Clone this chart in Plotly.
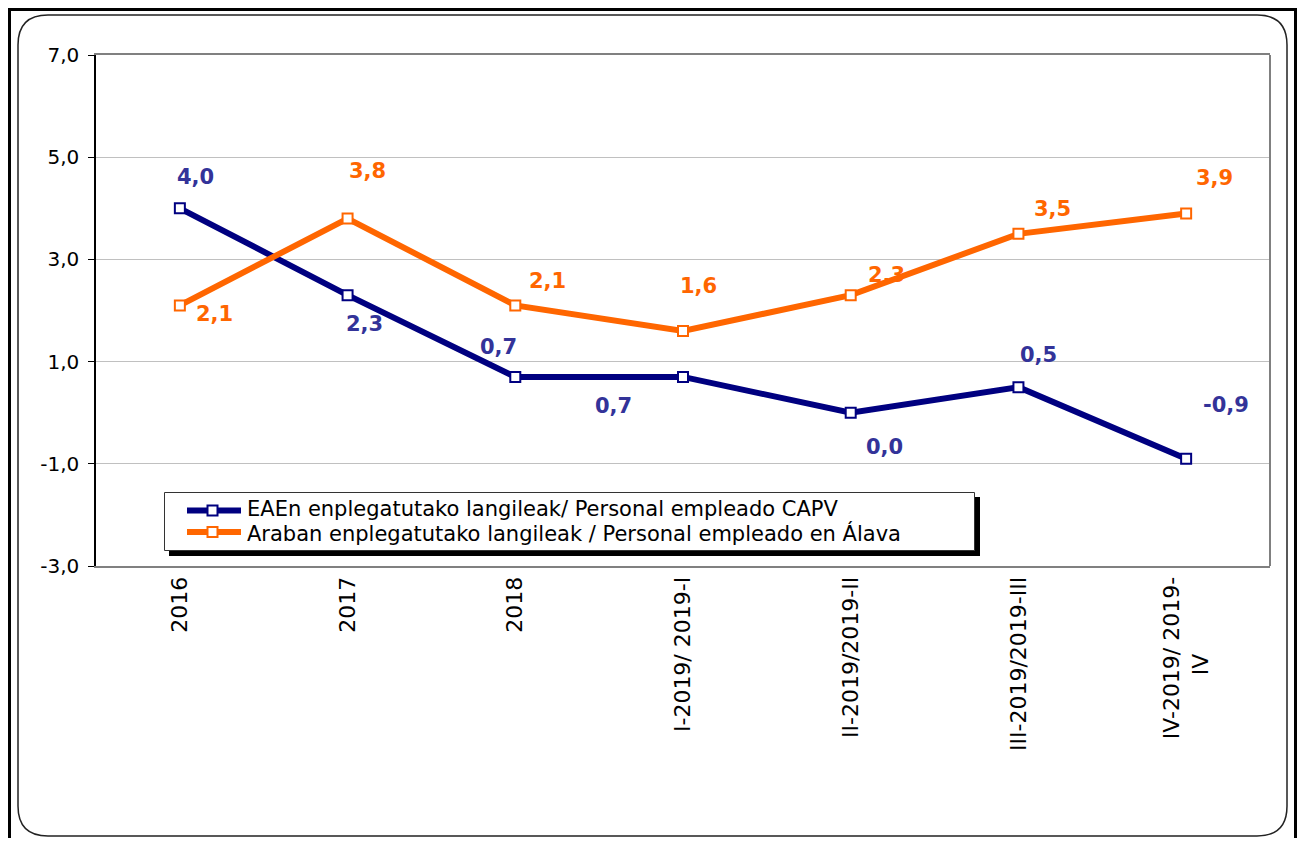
import plotly.graph_objects as go

categories = ["2016", "2017", "2018", "I-2019/ 2019-I", "II-2019/2019-II",
              "III-2019/2019-III", "IV-2019/ 2019-<br>IV"]
capv = [4.0, 2.3, 0.7, 0.7, 0.0, 0.5, -0.9]
alava = [2.1, 3.8, 2.1, 1.6, 2.3, 3.5, 3.9]
y_ticks = [-3.0, -1.0, 1.0, 3.0, 5.0, 7.0]
name_capv = "EAEn enplegatutako langileak/ Personal empleado CAPV"
name_alava = "Araban enplegatutako langileak / Personal empleado en Álava"
col_capv, col_alava = "#000080", "#FF6600"
lab_capv, lab_alava = "#333399", "#FF6600"

# label offsets in pixels (style)
off_capv = [(16, 31), (17, -29), (-17, 30), (-70, -29), (34, -34), (20, 32), (40, 54)]
off_alava = [(35, -9), (20, 48), (32, 24), (15, 45), (36, 20), (34, 25), (28, 35)]

PAGE = 8                      # browser body margin
W, H = 1289, 830              # figure size
L, R, T, B = 96, 1270, 55, 566  # plot area in screen pixels
FONT = "DejaVu Sans, Arial, sans-serif"

def px(x):
    return (x - L) / (R - L)

def py(y):
    return (B - y) / (B - T)

def fmt(v):
    return f"{v:.1f}".replace(".", ",")

# tick label text: centre the short second line of the last label
tick_text = [c.replace("<br>IV", "<br>IV" + "\u00a0" * 11) for c in categories]

fig = go.Figure()
fig.add_trace(go.Scatter(x=categories, y=capv, name=name_capv, mode="lines+markers",
                         line=dict(color=col_capv, width=6),
                         marker=dict(symbol="square", size=10, color="white",
                                     line=dict(color=col_capv, width=2))))
fig.add_trace(go.Scatter(x=categories, y=alava, name=name_alava, mode="lines+markers",
                         line=dict(color=col_alava, width=6),
                         marker=dict(symbol="square", size=10, color="white",
                                     line=dict(color=col_alava, width=2))))

ann = []
for vals, offs, col in ((capv, off_capv, lab_capv), (alava, off_alava, lab_alava)):
    for i, (v, (dx, dy)) in enumerate(zip(vals, offs)):
        ann.append(dict(x=i, y=v, xref="x", yref="y", text=fmt(v),
                        showarrow=False, xshift=dx, yshift=dy,
                        font=dict(family=FONT, size=21, color=col, weight="bold")))

shapes = []
# outer black frame
shapes.append(dict(type="rect", xref="paper", yref="paper",
                   x0=px(9.5), x1=px(1295.5), y0=py(860), y1=py(9.5),
                   line=dict(color="black", width=3), layer="below"))
# inner rounded frame
x0, x1, y0, y1, r = 18, 1287, 15, 836, 30
path = (f"M {px(x0 + r)},{py(y0)} L {px(x1 - r)},{py(y0)} "
        f"Q {px(x1)},{py(y0)} {px(x1)},{py(y0 + r)} "
        f"L {px(x1)},{py(y1 - r)} Q {px(x1)},{py(y1)} {px(x1 - r)},{py(y1)} "
        f"L {px(x0 + r)},{py(y1)} Q {px(x0)},{py(y1)} {px(x0)},{py(y1 - r)} "
        f"L {px(x0)},{py(y0 + r)} Q {px(x0)},{py(y0)} {px(x0 + r)},{py(y0)} Z")
shapes.append(dict(type="path", xref="paper", yref="paper", path=path,
                   line=dict(color="#222222", width=1.5), layer="below"))
# right plot border
shapes.append(dict(type="line", xref="paper", yref="paper", x0=1, x1=1, y0=0, y1=1,
                   line=dict(color="#808080", width=2)))

# legend box (drawn manually to match the original's compact layout)
shapes.append(dict(type="rect", xref="paper", yref="paper",
                   x0=px(169), x1=px(980), y0=py(556), y1=py(497),
                   fillcolor="black", line=dict(width=0)))
shapes.append(dict(type="rect", xref="paper", yref="paper",
                   x0=px(164.5), x1=px(974.5), y0=py(550.5), y1=py(492.5),
                   fillcolor="white", line=dict(color="#333333", width=1)))
for row_y, text_y, col, name in ((510.5, 508.5, col_capv, name_capv),
                                 (532, 533.5, col_alava, name_alava)):
    shapes.append(dict(type="line", xref="paper", yref="paper",
                       x0=px(187), x1=px(241), y0=py(row_y), y1=py(row_y),
                       line=dict(color=col, width=6)))
    shapes.append(dict(type="rect", xref="paper", yref="paper",
                       x0=px(207.5), x1=px(217.5), y0=py(row_y + 5), y1=py(row_y - 5),
                       fillcolor="white", line=dict(color=col, width=2)))
    ann.append(dict(x=px(246), y=py(text_y), xref="paper", yref="paper",
                    text=name, showarrow=False, xanchor="left", yanchor="middle",
                    borderpad=0,
                    font=dict(family=FONT, size=21, color="black")))

fig.update_layout(
    width=W, height=H,
    margin=dict(l=L - PAGE, r=PAGE + W - R, t=T - PAGE, b=PAGE + H - B, pad=0),
    paper_bgcolor="white", plot_bgcolor="white",
    font=dict(family=FONT, size=20, color="black"),
    showlegend=False,
    annotations=ann, shapes=shapes,
    xaxis=dict(type="category", range=[-0.5, 6.5], tickangle=-90,
               tickvals=categories, ticktext=tick_text,
               showline=True, linecolor="#808080", linewidth=2, mirror=True,
               showgrid=False, ticks="", tickfont=dict(size=22)),
    yaxis=dict(range=[-3, 7], tickvals=y_ticks,
               ticktext=[fmt(v) for v in y_ticks],
               showline=True, linecolor="black", linewidth=1.5,
               gridcolor="#C0C0C0", gridwidth=1, zeroline=False,
               ticks="outside", ticklen=6, tickcolor="black",
               ticklabelstandoff=5,
               tickfont=dict(size=20)),
)

fig.write_html("out.html")
